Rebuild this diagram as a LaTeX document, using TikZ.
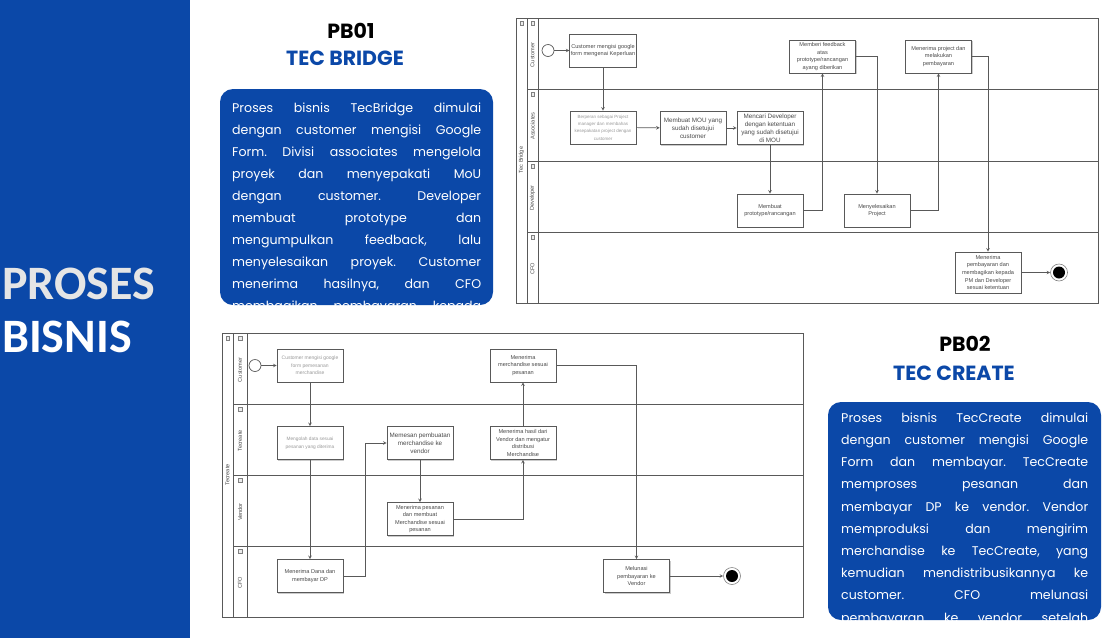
\documentclass[tikz,border=0pt]{standalone}
\usepackage{fontspec}
\setmainfont{Poppins}
\newfontfamily\calibri{Carlito}
\newfontfamily\arial{Liberation Sans}
\usetikzlibrary{positioning,shadows}
\definecolor{tecblue}{HTML}{0B48A8}
\definecolor{lanegray}{HTML}{595959}
\definecolor{tasktext}{HTML}{4A4A4A}
\frenchspacing

\begin{document}
\begin{tikzpicture}[
    x=1pt, y=-1pt,
    task/.style={draw=lanegray, fill=white, line width=0.7pt, minimum width=66pt, minimum height=33pt,
        inner sep=1pt, align=center, text=tasktext, font=\arial\fontsize{5.6}{7.6}\selectfont,
        drop shadow={shadow xshift=1pt, shadow yshift=-1pt, fill=black!40}},
    tasksm/.style={task, text=gray!80, font=\arial\fontsize{4.5}{7.4}\selectfont},
    taskbig/.style={task, font=\arial\fontsize{6.3}{8}\selectfont},
    flow/.style={draw=lanegray, line width=0.6pt, ->, >=stealth},
    poolline/.style={draw=lanegray, line width=0.9pt},
    lanelabel/.style={rotate=90, inner sep=0pt, text=tasktext, font=\arial\fontsize{5.6}{6}\selectfont},
    icon/.style={draw=gray, fill=gray!15, minimum size=3.6pt, inner sep=0pt, line width=0.3pt},
    startev/.style={circle, draw=lanegray, fill=white, line width=0.7pt, minimum size=12pt, inner sep=0pt},
    endev/.style={circle, draw=gray, fill=white, line width=0.6pt, minimum size=17pt, inner sep=0pt,
        path picture={\fill[black] (path picture bounding box.center) circle (6pt);}},
    panel/.style={fill=tecblue, rounded corners=13pt, inner sep=0pt},
    descline/.style={anchor=base west, inner sep=0pt, text=white, font=\fontsize{12.6}{15}\selectfont},
    ttl/.style={anchor=base, inner sep=0pt, font=\bfseries\fontsize{20.5}{22}\selectfont},
    bigword/.style={anchor=base west, inner sep=0pt, font=\calibri\bfseries\fontsize{48}{48}\selectfont},
]

% ---- kanvas ----
\useasboundingbox (0,0) rectangle (1113,638);
\fill[white] (0,0) rectangle (1113,638);
\fill[tecblue] (0,0) rectangle (190,638);
\node[bigword, text=gray!20] (hProses) at (2,299) {PROSES};
\node[bigword, text=white]   (hBisnis) at (2,352) {BISNIS};

% ---- judul ----
\node[ttl] (pbA) at (351,38) {PB01};
\node[ttl, text=tecblue] (nmA) at (345,65) {TEC BRIDGE};
\node[ttl] (pbB) at (965,351) {PB02};
\node[ttl, text=tecblue] (nmB) at (954,380) {TEC CREATE};

% ---- kotak deskripsi ----
\node[panel, minimum width=273pt, minimum height=216pt] (boxA) at (356.5,197) {};
\begin{scope}
\clip[rounded corners=13pt] (boxA.south west) rectangle (boxA.north east);
\foreach \txt [count=\i] in {{Proses bisnis TecBridge dimulai},{dengan customer mengisi Google},
    {Form. Divisi associates mengelola},{proyek dan menyepakati MoU},{dengan customer. Developer},
    {membuat prototype dan},{mengumpulkan feedback, lalu},{menyelesaikan proyek. Customer},
    {menerima hasilnya, dan CFO},{membagikan pembayaran kepada}}
    \node[descline] (dA\i) at (232,90+22*\i) {\makebox[249pt][s]{\txt}};
\end{scope}

\node[panel, minimum width=273pt, minimum height=218pt] (boxB) at (964.5,511) {};
\begin{scope}
\clip[rounded corners=13pt] (boxB.south west) rectangle (boxB.north east);
\foreach \txt [count=\i] in {{Proses bisnis TecCreate dimulai},{dengan customer mengisi Google},
    {Form dan membayar. TecCreate},{memproses pesanan dan},{membayar DP ke vendor. Vendor},
    {memproduksi dan mengirim},{merchandise ke TecCreate, yang},{kemudian mendistribusikannya ke},
    {customer. CFO melunasi},{pembayaran ke vendor setelah}}
    \node[descline] (dB\i) at (841,400+22.2*\i) {\makebox[247pt][s]{\txt}};
\end{scope}

% ---- pool Tec Bridge ----
\draw[poolline] (516,18) rectangle (1098,303);
\draw[poolline] (527,18) -- (527,303);
\draw[poolline] (538,18) -- (538,303);
\foreach \y in {89,161,232} \draw[poolline] (527,\y) -- (1098,\y);
\node[lanelabel] (poolA) at (521.5,160) {Tec Bridge};
\node[icon] (icA0) at (521.5,23) {};
\foreach \y/\lane [count=\i] in {18/Customer,89/Associates,161/Developer,232/CFO} {
    \node[lanelabel] (laneA\i) at (532.5,\y+37) {\lane};
    \node[icon] (icA\i) at (532.5,\y+5) {};
}

\node[startev] (st1) at (548,50.5) {};
\node[task] (tA) at (603,50.5) {Customer mengisi google\\form mengenai Keperluan};
\node[tasksm] (tB) at (603,127.5) {Berperan sebagai Project\\manager dan membahas\\kesepakatan project dengan\\customer};
\node[taskbig] (tC) at (693,128) {Membuat MOU yang\\sudah disetujui\\customer};
\node[taskbig] (tD) at (770,128) {Mencari Developer\\dengan ketentuan\\yang sudah disetujui\\di MOU};
\node[task] (tE) at (822.5,56.5) {Memberi feedback\\atas\\prototype/rancangan\\ayang diberikan};
\node[task] (tF) at (938.5,56.5) {Menerima project dan\\melakukan\\pembayaran};
\node[task] (tG) at (770,210.5) {Membuat\\prototype/rancangan};
\node[task] (tH) at (877,210.5) {Menyelesaikan\\Project};
\node[task, minimum height=41pt] (tI) at (988,272.5) {Menerima\\pembayaran dan\\membagikan kepada\\PM dan Developer\\sesuai ketentuan};
\node[endev] (end1) at (1059,272.5) {};

\draw[flow] (st1) -- (tA);
\draw[flow] (tA) -- (tB);
\draw[flow] (tB) -- (tC);
\draw[flow] (tC) -- (tD);
\draw[flow] (tD) -- (tG);
\draw[flow] (tG.east) -| (tE.south);
\draw[flow] (tE.east) -| (tH.north);
\draw[flow] (tH.east) -| (tF.south);
\draw[flow] (tF.east) -| (tI.north);
\draw[flow] (tI) -- (end1);

% ---- pool Tecreate ----
\draw[poolline] (222,333) rectangle (803,617);
\draw[poolline] (233,333) -- (233,617);
\draw[poolline] (247,333) -- (247,617);
\foreach \y in {404,475,546} \draw[poolline] (233,\y) -- (803,\y);
\node[lanelabel] (poolB) at (227.5,475) {Tecreate};
\node[icon] (icB0) at (227.5,338) {};
\foreach \y/\lane [count=\i] in {333/Customer,404/Tecreate,475/Vendor,546/CFO} {
    \node[lanelabel] (laneB\i) at (240,\y+37) {\lane};
    \node[icon] (icB\i) at (240,\y+5) {};
}

\node[startev] (st2) at (255,365.5) {};
\node[tasksm, font=\arial\fontsize{5}{7.6}\selectfont] (uA) at (310,365.5) {Customer mengisi google\\form pemesanan\\merchandise};
\node[tasksm, font=\arial\fontsize{4.8}{7.6}\selectfont] (uB) at (310,443) {Mengolah data sesuai\\pesanan yang diterima};
\node[taskbig] (uC) at (420,443) {Memesan pembuatan\\merchandise ke\\vendor};
\node[task] (uD) at (523,365.5) {Menerima\\merchandise sesuai\\pesanan};
\node[task] (uE) at (523,443) {Menerima hasil dari\\Vendor dan mengatur\\distribusi\\Merchandise};
\node[task] (uF) at (420,519) {Menerima pesanan\\dan membuat\\Merchandise sesuai\\pesanan};
\node[task] (uG) at (310,576) {Menerima Dana dan\\membayar DP};
\node[task] (uH) at (636.5,576) {Melunasi\\pembayaran ke\\Vendor};
\node[endev] (end2) at (732,576) {};

\draw[flow] (st2) -- (uA);
\draw[flow] (uA) -- (uB);
\draw[flow] (uB) -- (uG);
\draw[flow] (uG.east) -- ++(22,0) |- (uC.west);
\draw[flow] (uC) -- (uF);
\draw[flow] (uF.east) -| (uE.south);
\draw[flow] (uE) -- (uD);
\draw[flow] (uD.east) -| (uH.north);
\draw[flow] (uH) -- (end2);

\end{tikzpicture}
\end{document}
